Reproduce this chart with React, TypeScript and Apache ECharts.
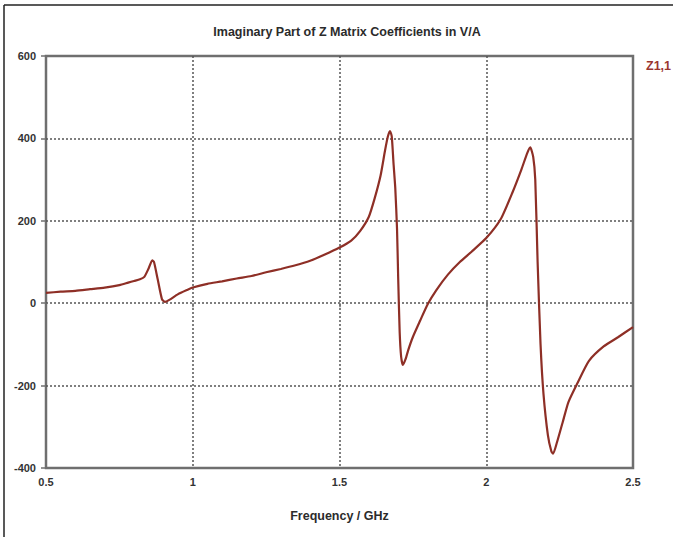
import React, { useEffect, useRef } from "react";
import * as echarts from "echarts";

// Frequency sweep (GHz) and imaginary part of Z1,1 (V/A)
const frequencies: number[] = [
  0.5, 0.55, 0.6, 0.65, 0.7, 0.75, 0.78, 0.8, 0.82, 0.835, 0.85, 0.862, 0.868, 0.88, 0.895, 0.905,
  0.92, 0.95, 0.98, 1.0, 1.05, 1.1, 1.15, 1.2, 1.25, 1.3, 1.35, 1.4, 1.45, 1.5, 1.54, 1.57, 1.6,
  1.62, 1.64, 1.655, 1.665, 1.672, 1.678, 1.684, 1.69, 1.696, 1.7, 1.705, 1.71, 1.716, 1.725,
  1.735, 1.75, 1.775, 1.8, 1.83, 1.87, 1.91, 1.95, 2.0, 2.05, 2.09, 2.12, 2.14, 2.15, 2.16, 2.167,
  2.175, 2.185, 2.195, 2.21, 2.222, 2.228, 2.24, 2.26, 2.28, 2.31, 2.35, 2.4, 2.45, 2.5,
];
const z11Imag: number[] = [
  25, 28, 30, 34, 38, 44, 50, 54, 58, 64, 85, 104, 100, 60, 10, 3,
  8, 22, 32, 38, 47, 53, 60, 66, 75, 83, 92, 103, 118, 135, 152, 175, 210,
  255, 310, 370, 405, 418, 405, 340, 280, 180, 60, -70, -130, -150, -136,
  -112, -82, -42, -3, 32, 70, 100, 125, 158, 205, 270, 325, 365, 378, 355, 300,
  100, -100, -220, -320, -360, -365, -340, -290, -240, -195, -140, -105, -82, -58,
];

const xTicks = { min: 0.5, max: 2.5, step: 0.5 };
const yTicks = { min: -400, max: 600, step: 200 };

const chartTitle = "Imaginary Part of Z Matrix Coefficients in V/A";
const xAxisTitle = "Frequency / GHz";
const seriesName = "Z1,1";

const curveColor = "#8e2f26";
const axisGrey = "#6f6f6f";
const labelFont = "'Liberation Sans', Arial, sans-serif";

export default function App() {
  const ref = useRef<HTMLDivElement | null>(null);

  useEffect(() => {
    document.body.style.margin = "0";
    if (!ref.current) return;
    const chart = echarts.init(ref.current, null, { renderer: "svg" });

    const points = frequencies.map((f, i) => [f, z11Imag[i]]);

    chart.setOption({
      animation: false,
      backgroundColor: "#ffffff",
      title: {
        text: chartTitle,
        left: 342,
        top: 20,
        textAlign: "center",
        textStyle: {
          fontFamily: labelFont,
          fontSize: 12.5,
          fontWeight: "bold",
          color: "#2b2b2b",
        },
      },
      grid: {
        left: 46,
        right: 40,
        top: 56,
        bottom: 69,
        show: true,
        borderColor: axisGrey,
        borderWidth: 2.5,
        backgroundColor: "transparent",
      },
      xAxis: {
        type: "value",
        min: xTicks.min,
        max: xTicks.max,
        interval: xTicks.step,
        name: xAxisTitle,
        nameLocation: "middle",
        nameGap: 41,
        nameTextStyle: {
          fontFamily: labelFont,
          fontSize: 12.5,
          fontWeight: "bold",
          color: "#2b2b2b",
        },
        axisLine: { show: false },
        axisTick: { show: true, length: 4, lineStyle: { color: axisGrey, width: 1.5 } },
        axisLabel: {
          fontFamily: labelFont,
          fontSize: 11,
          fontWeight: "bold",
          color: "#333333",
          margin: 8,
        },
        splitLine: {
          show: true,
          showMinLine: false,
          showMaxLine: false,
          lineStyle: { color: "#555555", width: 1.5, type: [2, 2] },
        },
      },
      yAxis: {
        type: "value",
        min: yTicks.min,
        max: yTicks.max,
        interval: yTicks.step,
        axisLine: { show: false },
        axisTick: { show: true, length: 5, lineStyle: { color: axisGrey, width: 1.5 } },
        axisLabel: {
          fontFamily: labelFont,
          fontSize: 11,
          fontWeight: "bold",
          color: "#333333",
          margin: 10,
          verticalAlign: "middle",
          padding: [0, 0, 8, 0],
        },
        splitLine: {
          show: true,
          showMinLine: false,
          showMaxLine: false,
          lineStyle: { color: "#555555", width: 1.5, type: [2, 2] },
        },
      },
      series: [
        {
          name: seriesName,
          type: "line",
          data: points,
          showSymbol: false,
          smooth: 0.2,
          lineStyle: { color: curveColor, width: 2.2 },
          z: 3,
        },
      ],
      graphic: [
        {
          type: "text",
          left: 646,
          top: 59,
          style: {
            text: seriesName,
            fontFamily: labelFont,
            fontSize: 12.5,
            fontWeight: "bold",
            fill: "#9a3530",
          },
        },
        {
          type: "line",
          shape: { x1: 4, y1: 5, x2: 673, y2: 5 },
          style: { stroke: "#222222", lineWidth: 1.5 },
        },
        {
          type: "line",
          shape: { x1: 4, y1: 5, x2: 4, y2: 537 },
          style: { stroke: "#222222", lineWidth: 1.5 },
        },
      ],
    });

    return () => chart.dispose();
  }, []);

  return (
    <div
      ref={ref}
      style={{ position: "absolute", left: 0, top: 0, width: 673, height: 537 }}
    />
  );
}
